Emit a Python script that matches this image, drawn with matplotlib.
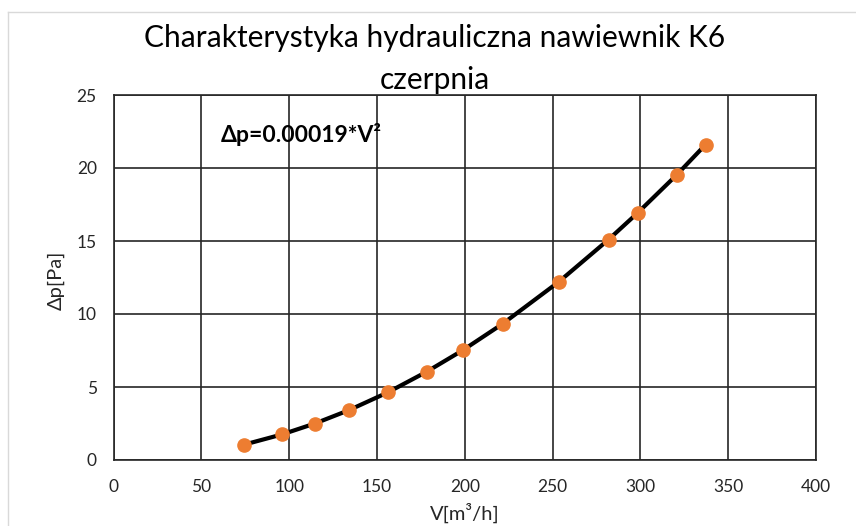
import matplotlib
matplotlib.use("Agg")
import matplotlib.pyplot as plt
from matplotlib.lines import Line2D

# Data
flow = [74.3, 95.9, 114.7, 134.0, 156.2, 178.4, 198.9, 221.6, 253.5, 281.9, 298.4, 320.6, 337.1]
dp = [1.05, 1.75, 2.50, 3.41, 4.63, 6.05, 7.52, 9.33, 12.20, 15.10, 16.92, 19.52, 21.60]
x_ticks = [0, 50, 100, 150, 200, 250, 300, 350, 400]
y_ticks = [0, 5, 10, 15, 20, 25]
title = "Charakterystyka hydrauliczna nawiewnik K6\nczerpnia"
formula = "Δp=0.00019*V²"
xlabel = "V[m³/h]"
ylabel = "Δp[Pa]"

plt.rcParams['font.family'] = ['Lato', 'DejaVu Sans']

W, H = 856, 526
fig = plt.figure(figsize=(W / 100, H / 100), dpi=100)
ax = fig.add_axes([113.5 / W, 1 - 460 / H, (816 - 113.5) / W, (460 - 95) / H])

ax.plot(flow, dp, color='black', lw=3.0, zorder=3, solid_capstyle='round')
ax.plot(flow, dp, 'o', color='#ED7D31', ms=9.5, mec='#ED7D31', zorder=4)

ax.set_xlim(0, 400)
ax.set_ylim(0, 25)
ax.set_xticks(x_ticks)
ax.set_yticks(y_ticks)
ax.tick_params(length=0, labelsize=12.5, colors='#262626', pad=12)
ax.tick_params(axis='x', pad=14)
ax.grid(True, color='#262626', lw=1.2)
for s in ax.spines.values():
    s.set_color('#262626')
    s.set_linewidth(1.2)

ax.text(221 / W, 1 - 135 / H, formula, transform=fig.transFigure, fontsize=16.5,
        fontweight='bold', va='center', ha='left', color='black')

fig.text(435 / W, 1 - 59 / H, title, ha='center', va='center', fontsize=21.5,
         color='black', linespacing=1.6)

fig.text(56 / W, 1 - 280 / H, ylabel, rotation=90, ha='center', va='center',
         fontsize=14.5, color='#262626')
fig.text(465 / W, 1 - 513 / H, xlabel, ha='center', va='center', fontsize=14.5,
         color='#262626')

border_color = '#D9D9D9'
fig.add_artist(Line2D([8 / W, 1.0], [1 - 12 / H, 1 - 12 / H], transform=fig.transFigure,
                      color=border_color, lw=1.0))
fig.add_artist(Line2D([8 / W, 8 / W], [1 - 12 / H, 0.0], transform=fig.transFigure,
                      color=border_color, lw=1.0))

fig.savefig("out.png", dpi=100)
